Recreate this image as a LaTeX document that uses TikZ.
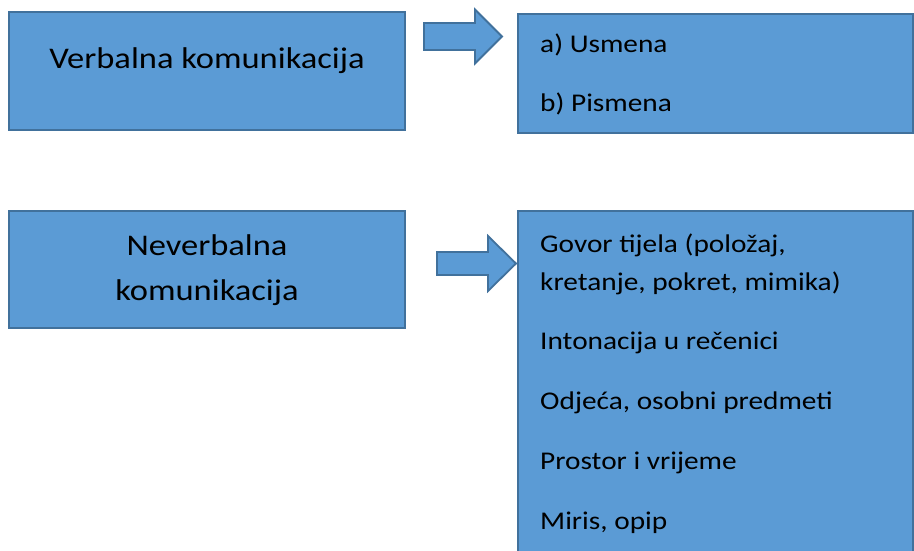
\documentclass[tikz,border=0pt]{standalone}
\usepackage{fontspec}
\setmainfont{Carlito}[FakeStretch=1.15]
\usetikzlibrary{positioning}

\definecolor{boxfill}{HTML}{5B9BD5}
\definecolor{boxline}{HTML}{41719C}

\begin{document}
\begin{tikzpicture}[
		x=1pt, y=-1pt,
		box/.style={
			rectangle,
			draw=boxline,
			fill=boxfill,
			line width=1.8pt,
			inner sep=0pt,
			outer sep=0pt,
			anchor=north west,
		},
		bigtxt/.style={font=\fontsize{30}{36}\selectfont, inner sep=0pt, anchor=base},
		item/.style={font=\fontsize{25.5}{30}\selectfont, inner sep=0pt, anchor=base west},
		blockarrow/.style={draw=boxline, fill=boxfill, line width=1.8pt, line join=miter},
		]
		\useasboundingbox (0,0) rectangle (914,551);
		\clip (0,0) rectangle (914,551);
		% Draw the boxes
		\node [box, minimum width=396pt, minimum height=118pt] (verbal) at (9,12) {};
		\node [box, minimum width=395pt, minimum height=119pt] (verbalkinds) at (518,14) {};
		\node [box, minimum width=396pt, minimum height=117pt] (nonverbal) at (9,211) {};
		\node [box, minimum width=395pt, minimum height=350pt] (nonverbalkinds) at (518,211) {};
		% Draw the labels of the left boxes
		\node [bigtxt] (verbaltxt) at (207,69) {Verbalna komunikacija};
		\node [bigtxt] (nonverbaltxt1) at (207,255) {Neverbalna};
		\node [bigtxt] (nonverbaltxt2) at (207,300) {komunikacija};
		% Draw the block arrows
		\foreach \tail/\neck/\tip/\mid/\shaft/\head in {424/475/502/36.5/13.5/27, 437/488/516/263.5/11.5/27.5} {
			\draw [blockarrow] (\tail,\mid-\shaft) -- (\neck,\mid-\shaft) -- (\neck,\mid-\head)
				-- (\tip,\mid) -- (\neck,\mid+\head) -- (\neck,\mid+\shaft) -- (\tail,\mid+\shaft) -- cycle;
		}
		% Draw the kinds of verbal communication
		\node [item] (usmena) at (540,53) {a) Usmena};
		\node [item] (pismena) at (540,112) {b) Pismena};
		% Draw the kinds of nonverbal communication
		\foreach \i/\y/\txt in {1/252/{Govor tijela (položaj,}, 2/290/{kretanje, pokret, mimika)},
			3/349/{Intonacija u rečenici}, 4/409/{Odjeća, osobni predmeti},
			5/469/{Prostor i vrijeme}, 6/529/{Miris, opip}} {
			\node [item] (kind\i) at (540,\y) {\txt};
		}
	\end{tikzpicture}
\end{document}
